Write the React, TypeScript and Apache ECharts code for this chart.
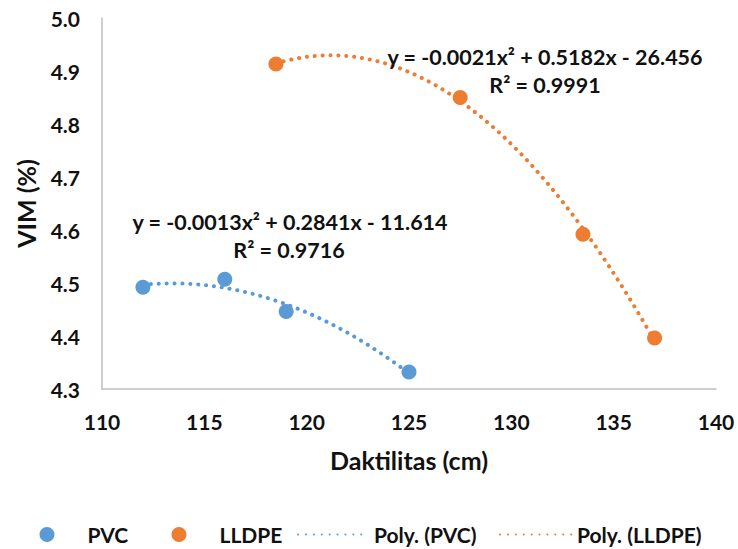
import React, { useEffect, useRef } from "react";
import * as echarts from "echarts";

const pvcX = [112, 116, 119, 125];
const pvcY = [4.492, 4.507, 4.446, 4.332];
const lldpeX = [118.5, 127.5, 133.5, 137];
const lldpeY = [4.913, 4.85, 4.592, 4.396];

const xTicks = { min: 110, max: 140, interval: 5 };
const yTicks = { min: 4.3, max: 5.0, interval: 0.1 };

const pvcEq = ["y = -0.0013x\u00B2 + 0.2841x - 11.614", "R\u00B2 = 0.9716"];
const lldpeEq = ["y = -0.0021x\u00B2 + 0.5182x - 26.456", "R\u00B2 = 0.9991"];

const BLUE = "#5B9BD5";
const ORANGE = "#ED7D31";
const FONT = "Lato";
const TXT = "#111";

// least-squares quadratic fit (like a spreadsheet "Poly." trendline)
function fitQuad(xs: number[], ys: number[]) {
  let s0 = 0, s1 = 0, s2 = 0, s3 = 0, s4 = 0, t0 = 0, t1 = 0, t2 = 0;
  xs.forEach((x, i) => {
    const y = ys[i];
    s0 += 1; s1 += x; s2 += x * x; s3 += x * x * x; s4 += x * x * x * x;
    t0 += y; t1 += x * y; t2 += x * x * y;
  });
  const A = [
    [s4, s3, s2, t2],
    [s3, s2, s1, t1],
    [s2, s1, s0, t0],
  ];
  for (let i = 0; i < 3; i++) {
    let p = i;
    for (let r = i + 1; r < 3; r++) if (Math.abs(A[r][i]) > Math.abs(A[p][i])) p = r;
    [A[i], A[p]] = [A[p], A[i]];
    for (let r = 0; r < 3; r++) {
      if (r === i) continue;
      const f = A[r][i] / A[i][i];
      for (let c = i; c < 4; c++) A[r][c] -= f * A[i][c];
    }
  }
  const a = A[0][3] / A[0][0], b = A[1][3] / A[1][1], c = A[2][3] / A[2][2];
  return (x: number) => a * x * x + b * x + c;
}

function trend(xs: number[], ys: number[]) {
  const f = fitQuad(xs, ys);
  const lo = Math.min(...xs), hi = Math.max(...xs);
  const n = 80;
  const out: number[][] = [];
  for (let i = 0; i <= n; i++) {
    const x = lo + ((hi - lo) * i) / n;
    out.push([x, f(x)]);
  }
  return out;
}

export default function App() {
  const ref = useRef<HTMLDivElement>(null);
  useEffect(() => {
    if (!ref.current) return;
    const chart = echarts.init(ref.current, undefined, { renderer: "svg" });
    const textStyle = { fontFamily: FONT, fontWeight: "bold" as const, fontSize: 21, color: TXT };
    const titleStyle = { fontFamily: FONT, fontWeight: "bold" as const, fontSize: 25, color: TXT };
    const dotted = (color: string) => ({
      color,
      width: 4,
      type: [0.1, 7.8],
      cap: "round" as const,
    });
    const legendBase = {
      top: 524,
      padding: 0,
      itemHeight: 15,
      textStyle: { ...textStyle },
      orient: "horizontal" as const,
      selectedMode: false as const,
    };
    const dotLegend = {
      ...legendBase,
      itemWidth: 15,
      formatter: "{s| }{name}",
      textStyle: { ...textStyle, rich: { s: { width: 28, fontSize: 21 } } },
    };
    chart.setOption({
      animation: false,
      backgroundColor: "#fff",
      textStyle: { fontFamily: FONT },
      grid: { left: 102, right: 22, top: 18, bottom: 160 },
      xAxis: {
        type: "value",
        min: xTicks.min,
        max: xTicks.max,
        interval: xTicks.interval,
        name: "Daktilitas (cm)",
        nameLocation: "middle",
        nameGap: 58,
        nameTextStyle: { ...titleStyle },
        axisLine: { show: true, lineStyle: { color: "#BFBFBF", width: 1.5 } },
        axisTick: { show: false },
        splitLine: { show: false },
        axisLabel: { ...textStyle, margin: 22 },
      },
      yAxis: {
        type: "value",
        min: yTicks.min,
        max: yTicks.max,
        interval: yTicks.interval,
        name: "VIM (%)",
        nameLocation: "middle",
        nameGap: 64,
        nameTextStyle: { ...titleStyle },
        axisLine: { show: true, lineStyle: { color: "#BFBFBF", width: 1.5 } },
        axisTick: { show: false },
        splitLine: { show: false },
        axisLabel: { ...textStyle, margin: 22, formatter: (v: number) => v.toFixed(1) },
      },
      legend: [
        { ...dotLegend, left: 39.5, data: [{ name: "PVC", icon: "circle" }] },
        { ...dotLegend, left: 171.5, data: [{ name: "LLDPE", icon: "circle" }] },
        { ...legendBase, left: 297, itemWidth: 71, itemStyle: { opacity: 0 }, data: ["Poly. (PVC)"] },
        { ...legendBase, left: 499, itemWidth: 72, itemStyle: { opacity: 0 }, data: ["Poly. (LLDPE)"] },
      ],
      series: [
        {
          name: "Poly. (PVC)",
          type: "line",
          data: trend(pvcX, pvcY),
          showSymbol: false,
          symbol: "none",
          lineStyle: dotted(BLUE),
          itemStyle: { color: BLUE },
          z: 2,
        },
        {
          name: "Poly. (LLDPE)",
          type: "line",
          data: trend(lldpeX, lldpeY),
          showSymbol: false,
          symbol: "none",
          lineStyle: dotted(ORANGE),
          itemStyle: { color: ORANGE },
          z: 2,
        },
        {
          name: "PVC",
          type: "scatter",
          data: pvcX.map((x, i) => [x, pvcY[i]]),
          symbolSize: 15,
          itemStyle: { color: BLUE, opacity: 1 },
          z: 3,
        },
        {
          name: "LLDPE",
          type: "scatter",
          data: lldpeX.map((x, i) => [x, lldpeY[i]]),
          symbolSize: 15,
          itemStyle: { color: ORANGE, opacity: 1 },
          z: 3,
        },
      ],
      graphic: [
        { type: "text", x: 290, y: 222, z: 10, style: { text: pvcEq[0], fill: TXT, align: "center", verticalAlign: "middle", font: `bold 21.5px ${FONT}` } },
        { type: "text", x: 289, y: 250, z: 10, style: { text: pvcEq[1], fill: TXT, align: "center", verticalAlign: "middle", font: `bold 21.5px ${FONT}` } },
        { type: "text", x: 545, y: 57, z: 10, style: { text: lldpeEq[0], fill: TXT, align: "center", verticalAlign: "middle", font: `bold 21.5px ${FONT}` } },
        { type: "text", x: 545, y: 85, z: 10, style: { text: lldpeEq[1], fill: TXT, align: "center", verticalAlign: "middle", font: `bold 21.5px ${FONT}` } },
      ],
    });
    return () => chart.dispose();
  }, []);
  return <div ref={ref} style={{ width: 738, height: 549, position: "absolute", left: 0, top: 0 }} />;
}
